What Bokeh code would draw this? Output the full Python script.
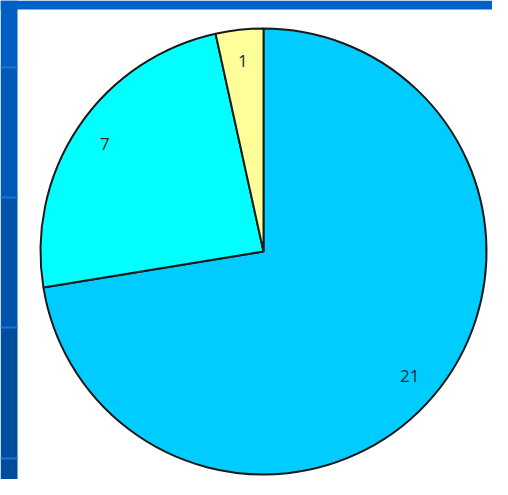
import math
from bokeh.plotting import figure
from bokeh.models import Range1d, ColumnDataSource
from bokeh.core.properties import value
from bokeh.embed import file_html
from bokeh.resources import INLINE

# data
labels = ["21", "7", "1"]
values = [21, 7, 1]
colors = ["#00CCFF", "#00FFFF", "#FFFF99"]

W, H = 492, 479
p = figure(width=W, height=H, output_backend="svg", toolbar_location=None,
           x_range=Range1d(0, W), y_range=Range1d(0, H),
           min_border=0, background_fill_color="white", border_fill_color="white")
p.axis.visible = False
p.grid.visible = False
p.outline_line_color = None

# slide frame (left strip and top band)
p.quad(left=0, right=W, bottom=H - 9, top=H, fill_color="#0062c6", line_color=None)
strip_bottoms = [0, 152, 282, 412]
strip_tops = [152, 282, 412, H]
strip_colors = ["#004c9e", "#0052ab", "#0058b8", "#005ec2"]
p.quad(left=0, right=17, bottom=strip_bottoms, top=strip_tops, fill_color=strip_colors, line_color=None)
for yy in [412, 282, 152, 21]:
    p.quad(left=0, right=17, bottom=yy - 1, top=yy + 1, fill_color="#1f72d2", line_color=None)

cx, cy, r = 263, 228, 223
total = sum(values)
starts, ends, lx, ly = [], [], [], []
cum = 0
for v in values:
    a0 = math.pi / 2 - cum / total * 2 * math.pi
    a1 = math.pi / 2 - (cum + v) / total * 2 * math.pi
    starts.append(a0)
    ends.append(a1)
    mid = (a0 + a1) / 2
    lx.append(cx + 0.86 * r * math.cos(mid))
    ly.append(cy + 0.86 * r * math.sin(mid))
    cum += v

src = ColumnDataSource(dict(start=starts, end=ends, color=colors, lx=lx, ly=ly, label=labels))
p.wedge(x=cx, y=cy, radius=r, start_angle="start", end_angle="end", direction="clock",
        fill_color="color", line_color="#1a1a1a", line_width=2, source=src)
p.text(x="lx", y="ly", text="label", source=src, text_align="center", text_baseline="middle",
       text_font=value("Open Sans"), text_font_size="17px", text_color="#2a2a2a")

open("out.html", "w").write(file_html(p, INLINE))
